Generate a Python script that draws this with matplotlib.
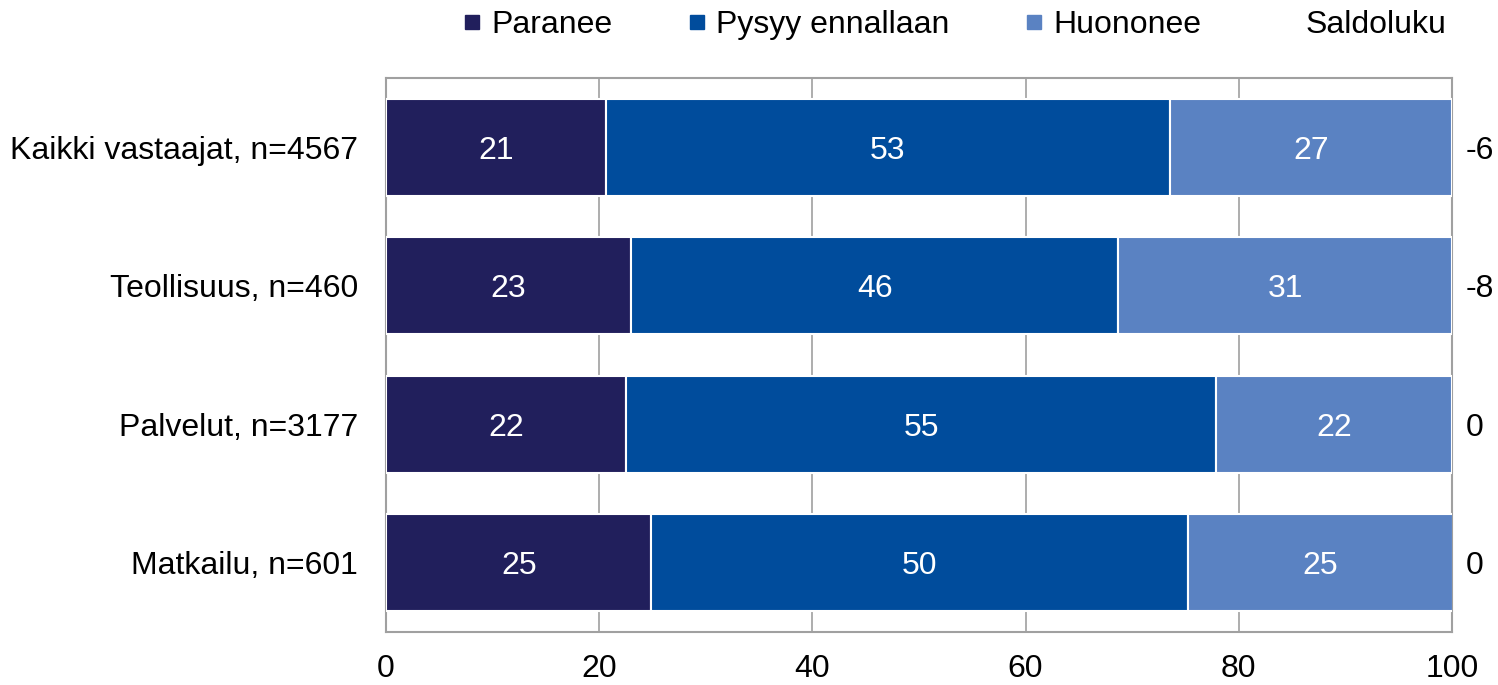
import matplotlib
matplotlib.use("Agg")
import matplotlib.pyplot as plt
from matplotlib.lines import Line2D
import numpy as np

plt.rcParams['font.family'] = ['Liberation Sans', 'DejaVu Sans']

categories = ["Kaikki vastaajat, n=4567", "Teollisuus, n=460", "Palvelut, n=3177", "Matkailu, n=601"]
paranee = [20.6, 23.0, 22.5, 24.9]
pysyy = [52.9, 45.7, 55.4, 50.3]
huononee = [26.5, 31.3, 22.1, 24.9]
paranee_lbl = [21, 23, 22, 25]
pysyy_lbl = [53, 46, 55, 50]
huononee_lbl = [27, 31, 22, 25]
saldoluku = ["-6", "-8", "0", "0"]
series_names = ["Paranee", "Pysyy ennallaan", "Huononee"]
colors = ["#211F5C", "#004C9C", "#5A82C2"]

FS = 23

fig = plt.figure(figsize=(14.98, 6.85), dpi=100)
ax = fig.add_axes([386/1498, 53/685, (1452-386)/1498, (632-78)/685])

y = np.arange(len(categories))
left = np.zeros(len(categories))
for vals, lbls, col in zip([paranee, pysyy, huononee], [paranee_lbl, pysyy_lbl, huononee_lbl], colors):
    bars = ax.barh(y, vals, left=left, height=0.7, color=col, edgecolor="white", linewidth=1.5, zorder=3)
    for b, l in zip(bars, lbls):
        ax.text(b.get_x() + b.get_width()/2, b.get_y() + b.get_height()/2, str(l),
                ha="center", va="center_baseline", color="white", fontsize=FS, zorder=4)
    left = left + np.array(vals)

for yi, s in zip(y, saldoluku):
    ax.annotate(s, xy=(100, yi), xytext=(10, 0), textcoords="offset points",
                ha="left", va="center_baseline", fontsize=FS, color="black", annotation_clip=False)

ax.set_xlim(0, 100)
ax.set_ylim(-0.5, 3.5)
ax.invert_yaxis()
ax.set_yticks(y)
ax.set_yticklabels(categories, fontsize=FS)
ax.set_xticks([0, 20, 40, 60, 80, 100])
ax.tick_params(axis="both", length=0, labelsize=FS)
ax.tick_params(axis="y", pad=20)
ax.tick_params(axis="x", pad=16)
ax.grid(axis="x", color="#A0A0A0", linewidth=1.2, zorder=0)
for sp in ax.spines.values():
    sp.set_color("#A0A0A0")
    sp.set_linewidth(1.5)

handles = [Line2D([], [], marker="s", linestyle="none", color=c, markersize=10) for c in colors]
handles.append(Line2D([], [], linestyle="none"))
labels = series_names + ["Saldoluku"]
fig.legend(handles, labels, loc="center", bbox_to_anchor=(0.637, 0.963), ncol=4, frameon=False,
           fontsize=FS, handlelength=0.6, handletextpad=0.3, columnspacing=2.35)

fig.savefig("out.png", dpi=100)
